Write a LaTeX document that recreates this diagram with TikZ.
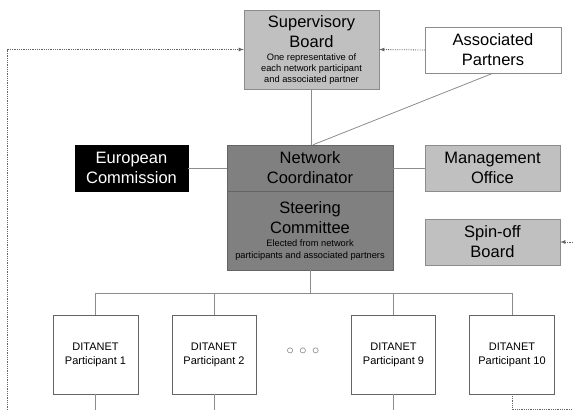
\documentclass[tikz,border=0pt]{standalone}
\usepackage{fontspec}
\setmainfont{Liberation Sans}
\usepackage{xcolor}
\usepackage{tikz}
\usetikzlibrary{arrows}

\definecolor{boxlight}{RGB}{192,192,192}
\definecolor{boxdark}{RGB}{128,128,128}
\definecolor{linegray}{RGB}{140,140,140}
\definecolor{edgegray}{RGB}{100,100,100}
\newcommand{\smalltxt}{\fontsize{9.3}{11}\selectfont}

\begin{document}
\begin{tikzpicture}[x=1pt, y=-1pt,
        box/.style={draw=linegray, fill=boxlight, align=center, inner sep=0pt,
            font=\fontsize{16.5}{20}\selectfont},
        partbox/.style={draw=edgegray, fill=white, align=center, inner sep=0pt,
            minimum width=84pt, minimum height=79pt, font=\fontsize{11}{14}\selectfont},
        link/.style={draw=linegray, line width=0.8pt},
        flow/.style={draw=edgegray, densely dotted, line width=0.8pt}]
        \useasboundingbox (0, 0) rectangle (573, 410);

        % top row
        \node[box, minimum width=135pt, minimum height=79pt] (sb) at (311.5, 49.5)
            {Supervisory\\Board\\[-7pt]{\smalltxt One representative of}\\[-9pt]{\smalltxt each network participant}\\[-9pt]{\smalltxt and associated partner}};
        \node[box, fill=white, minimum width=136pt, minimum height=46pt] (ap) at (493, 50) {Associated\\Partners};

        % middle row
        \node[box, draw=black, fill=black, text=white, minimum width=113pt, minimum height=46pt] (ec) at (131.5, 168) {European\\Commission};
        \node[box, draw=edgegray, fill=boxdark, minimum width=166pt, minimum height=46pt] (nc) at (310, 168) {Network\\Coordinator};
        \node[box, draw=edgegray, fill=boxdark, minimum width=166pt, minimum height=79pt] (sc) at (310, 230.5)
            {Steering\\Committee\\[-7pt]{\smalltxt Elected from network}\\[-8pt]{\smalltxt participants and associated partners}};
        \node[box, minimum width=135pt, minimum height=46pt] (mo) at (492.5, 168) {Management\\Office};
        \node[box, minimum width=135pt, minimum height=46pt] (so) at (492.5, 242) {Spin-off\\Board};

        % participants
        \node[partbox, minimum width=85pt] (p1) at (95.5, 354.5) {DITANET\\Participant 1};
        \node[partbox] (p2) at (214, 354.5) {DITANET\\Participant 2};
        \node[partbox] (p9) at (393.5, 354.5) {DITANET\\Participant 9};
        \node[partbox, minimum width=85pt] (p10) at (512, 354.5) {DITANET\\Participant 10};
        \node[font=\fontsize{15}{15}\selectfont, text=edgegray] (dots) at (303, 351) {$\circ\,\circ\,\circ$};

        \coordinate (bus) at (310, 293);
        \coordinate (lbot) at (7, 410);
        \coordinate (rbot) at (573, 409);
        \coordinate (soin) at (573, 242);

        \draw[link] (sb.south) -- (sb.south |- nc.north);
        \draw[link] (ap.south) -- ([xshift=3pt]nc.north);
        \draw[link] (ec.east) -- (nc.west);
        \draw[link] (nc.east) -- (mo.west);
        \draw[link] (sc.south) -- (bus);
        \foreach \p in {p1, p2, p9, p10}
            \draw[link] (bus) -| (\p.north);
        \foreach \p in {p1, p2, p9}
            \draw[link] (\p.south) -- (\p.south |- lbot);

        \draw[flow, -latex] (lbot) |- (sb.west);
        \draw[flow, -latex] (ap.west) -- (sb.east);
        \draw[flow, -latex] (soin) -- (so.east);
        \draw[flow] (p10.south) |- (rbot);
\end{tikzpicture}
\end{document}
